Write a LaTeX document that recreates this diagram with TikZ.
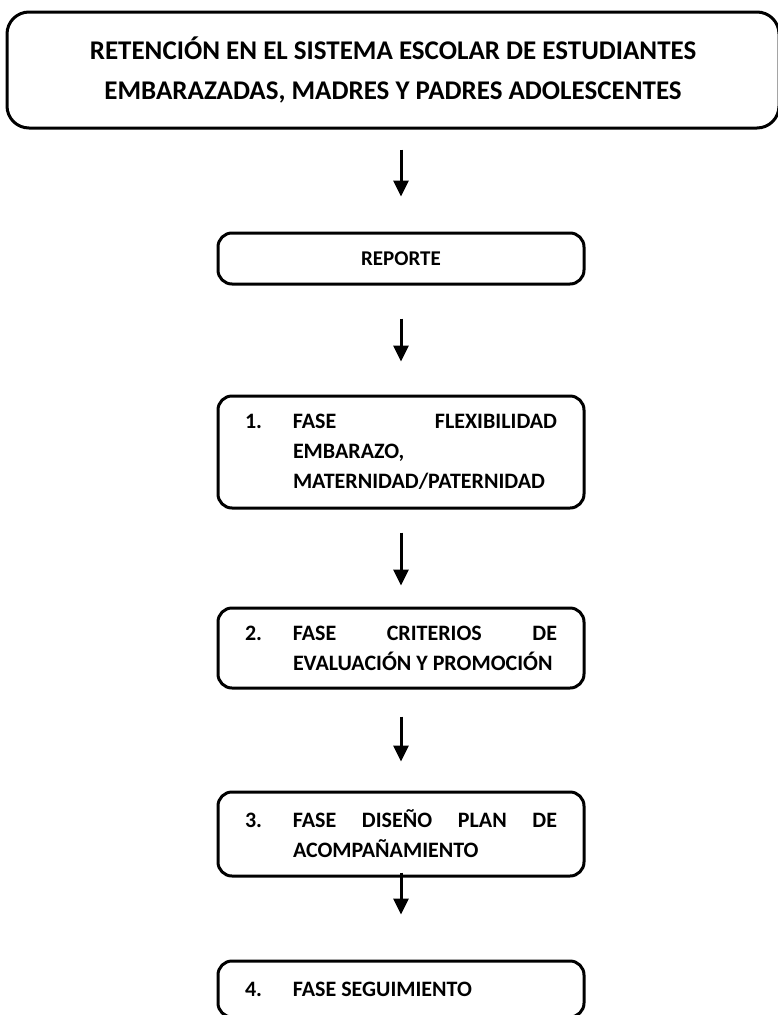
\documentclass[tikz,border=0pt]{standalone}
\usepackage{fontspec}
\setmainfont{Carlito}
\usetikzlibrary{arrows.meta, positioning}

% numbered phase text, hanging indent like a word list
\newcommand{\fasetext}[2]{\parbox{312pt}{\hyphenpenalty=10000\hangindent=48pt\hangafter=1\noindent\makebox[48pt][l]{#1}#2}}

\begin{document}
\begin{tikzpicture}[x=1pt, y=1pt,
    every node/.style={font=\fontsize{22}{30}\selectfont\bfseries},
    box/.style={draw, line width=3pt, rounded corners=14pt, minimum width=366pt, inner sep=0pt},
    arr/.style={-{Triangle[width=15pt,length=16pt]}, line width=3pt}]
  \useasboundingbox (0,0) rectangle (778,-1015);
  \node[box, rounded corners=22pt, minimum width=772pt, minimum height=116pt,
        align=center, font=\fontsize{27}{40}\selectfont\bfseries] (titulo) at (393,-70)
        {RETENCIÓN EN EL SISTEMA ESCOLAR DE ESTUDIANTES\\EMBARAZADAS, MADRES Y PADRES ADOLESCENTES};
  \node[box, minimum height=51pt, below=102pt of titulo, xshift=8pt,
        font=\fontsize{21}{30}\selectfont\bfseries] (reporte) {REPORTE};
  \node[box, minimum height=112pt, below=109pt of reporte] (fase1)
        {\fasetext{1.}{FASE FLEXIBILIDAD\linebreak EMBARAZO,\newline MATERNIDAD/PATERNIDAD}};
  \node[box, minimum height=80pt, below=97pt of fase1] (fase2)
        {\fasetext{2.}{FASE CRITERIOS DE\linebreak EVALUACIÓN Y PROMOCIÓN}};
  \node[box, minimum height=84pt, below=101pt of fase2] (fase3)
        {\fasetext{3.}{FASE DISEÑO PLAN DE\linebreak ACOMPAÑAMIENTO}};
  \node[box, minimum height=56pt, below=82pt of fase3] (fase4)
        {\fasetext{4.}{FASE SEGUIMIENTO}};
  \draw[arr, shorten <=20pt, shorten >=35pt] (titulo.south -| reporte.north) -- (reporte.north);
  \draw[arr, shorten <=33pt, shorten >=33pt] (reporte) -- (fase1);
  \draw[arr, shorten <=23pt, shorten >=21pt] (fase1) -- (fase2);
  \draw[arr, shorten <=27pt, shorten >=29pt] (fase2) -- (fase3);
  \draw[arr, shorten <=-5pt, shorten >=45pt] (fase3) -- (fase4);
\end{tikzpicture}
\end{document}
